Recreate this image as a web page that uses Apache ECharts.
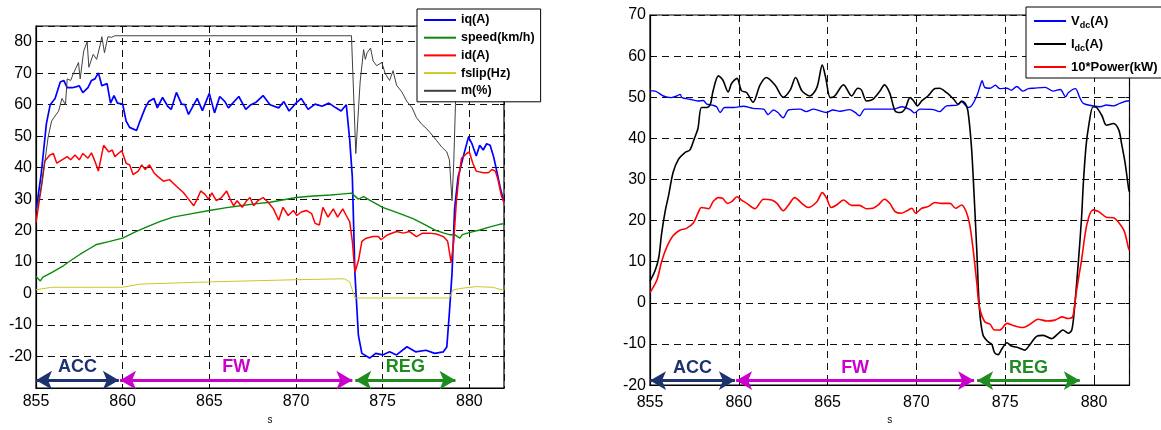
<!DOCTYPE html>
<html>
<head>
<meta charset="utf-8">
<script src="https://cdn.jsdelivr.net/npm/echarts@6/dist/echarts.min.js"></script>
<style>
  html, body { margin: 0; padding: 0; background: #fff; }
  #chart { width: 1161px; height: 430px; }
</style>
</head>
<body>
<div id="chart"></div>
<script>
// ---- data (time in s) ----
const iq = [[855,26],[855.3,38],[855.6,54],[855.82,60],[856.1,62],[856.4,67.2],[856.6,67.7],[856.8,65.4],[857.1,65.4],[857.5,66],[857.7,63.8],[858,65.4],[858.2,67.7],[858.4,68.2],[858.6,70.1],[858.8,66],[859.1,66.7],[859.3,60.5],[859.5,62.9],[859.7,60.5],[860,60.2],[860.2,54.8],[860.4,52.8],[860.8,51.8],[861,54.8],[861.3,59],[861.5,61],[861.8,62],[862,59],[862.3,62.3],[862.6,59.5],[862.8,58.5],[863.1,63.9],[863.4,60.2],[863.6,60],[863.8,56.9],[864.3,62],[864.6,58.1],[865,63.6],[865.3,57.4],[865.6,62.6],[865.9,61],[866.1,59],[866.7,62.6],[867.1,58.5],[867.4,60],[867.7,60.8],[868.1,62.9],[868.5,60],[869,59],[869.3,61],[869.6,58],[870,60.5],[870.3,62],[870.7,58.5],[871.1,60.2],[871.5,59.5],[871.9,60.5],[872.3,59],[872.6,58],[872.9,60],[873.1,48.7],[873.25,37],[873.4,6.3],[873.6,-13.3],[873.8,-19],[874.25,-20.5],[874.6,-19],[875,-19.5],[875.4,-18.5],[875.8,-19.5],[876.4,-16.9],[876.9,-18.5],[877.5,-18],[878,-19],[878.5,-18.5],[878.7,-17],[878.85,-6],[879,6.3],[879.15,27],[879.35,37],[879.65,43.5],[879.95,49.7],[880.15,47.6],[880.4,43.7],[880.6,47.1],[880.8,45.6],[881,47.6],[881.2,47.1],[881.4,43.5],[881.6,38.4],[881.8,33.2],[882,29]];

const speed = [[855,5.4],[855.1,5],[855.25,4],[855.4,5.2],[855.6,5.8],[856,7],[856.6,8.9],[857,10.5],[857.55,12.5],[858,14],[858.5,15.6],[859.2,16.5],[860,17.6],[860.7,19.5],[861.4,21.2],[862.1,22.8],[862.9,24.3],[864,25.4],[865,26.4],[866,27.3],[866.8,27.9],[867.6,28.5],[868.5,29],[869.3,29.8],[870,30.5],[871,31],[872,31.3],[872.6,31.6],[873.2,31.9],[873.6,30],[873.9,30.8],[874.4,29.2],[875,27.4],[875.8,25.8],[876.75,23.8],[877.4,22],[878,20.2],[878.5,19.3],[878.85,18.7],[879.15,18.7],[879.45,17.6],[879.6,18.7],[880.1,19.5],[880.6,20.2],[881.2,21.2],[881.75,22],[882,22.2]];

const id = [[855,22.5],[855.35,35.3],[855.5,42],[855.8,44],[856,44.5],[856.2,41.4],[856.5,42.5],[856.8,43.5],[857,42.5],[857.25,44],[857.5,42.5],[857.7,44.5],[858,43],[858.2,44.7],[858.4,42],[858.6,38.9],[858.9,47.1],[859.2,45],[859.4,45.6],[859.55,43.5],[859.75,44.5],[859.95,45.4],[860.2,41.4],[860.4,40.9],[860.6,37.8],[860.9,38.9],[861.1,40.9],[861.3,39.4],[861.55,40.9],[861.8,38.4],[862,37.3],[862.35,35.7],[862.7,36.2],[863.1,34.1],[863.5,32.1],[863.8,30],[864.1,27.9],[864.3,30],[864.5,32.6],[864.75,31.5],[864.95,30],[865.15,32],[865.4,29.5],[865.7,30.5],[866,32.6],[866.2,30],[866.4,27.9],[866.6,29.5],[866.9,27.4],[867.15,29.5],[867.35,30.5],[867.55,27.9],[867.8,29.5],[868.1,30.5],[868.4,29],[868.7,26.9],[869,23.3],[869.25,27.4],[869.55,24.8],[869.85,26.4],[870.05,24.8],[870.3,25.9],[870.6,26.4],[870.9,25.4],[871.1,22.3],[871.35,21.8],[871.55,27.4],[871.85,24.3],[872.15,26.9],[872.4,24.3],[872.7,26.9],[872.9,24.8],[873.1,22.8],[873.25,16.6],[873.4,6.8],[873.6,10.4],[873.8,16.6],[874.05,17.6],[874.45,18.1],[874.75,18.1],[874.9,17.1],[875.3,18.7],[875.8,19.7],[876.2,19.2],[876.55,19.7],[876.95,18.1],[877.3,19.2],[877.7,19.2],[878.1,18.9],[878.5,18.1],[878.75,16.6],[878.95,9.9],[879.1,16.6],[879.25,29],[879.4,37.2],[879.55,43],[879.85,44.5],[880,45],[880.2,41.4],[880.4,38.9],[880.8,38.4],[881.1,38.4],[881.3,39.4],[881.5,38.9],[881.65,36.3],[881.85,31.1],[882,29]];

const fslip = [[855,1.2],[855.9,2],[860,2],[861,3],[865,3.7],[870,4.4],[872.8,4.7],[873.1,3.7],[873.4,-1.4],[878.85,-1.4],[879.05,1.1],[879.45,1.6],[880.4,2.2],[881.35,2],[882,1]];

const mPct = [[855,26],[855.25,32],[855.5,41.4],[855.7,49.7],[855.9,54.8],[856.1,56.4],[856.3,57.9],[856.5,62],[856.7,60],[856.8,68.2],[857,67.7],[857.15,69.8],[857.45,73.4],[857.55,68.2],[857.75,77],[857.95,80],[858.05,71.9],[858.3,76],[858.5,74.4],[858.7,79],[858.8,81.6],[858.95,76.5],[859.15,81.6],[859.35,81.4],[859.55,81.9],[873.2,81.9],[873.45,44.5],[873.7,67.2],[873.9,77.5],[874,74.4],[874.1,76.5],[874.3,78],[874.45,73.9],[874.65,72.4],[874.95,73.4],[875.15,69.8],[875.4,67.7],[875.6,70.8],[875.8,66.2],[876.1,64.1],[876.4,61],[876.7,59],[876.95,55.9],[877.25,53.8],[877.55,52.3],[877.8,50.7],[878.1,48.7],[878.4,46.6],[878.7,45],[878.85,42.5],[879,29.5],[879.1,41.4],[879.2,60],[879.3,82],[882,82]];

const vdc = [[855,51.6],[855.3,51.5],[855.75,50.3],[856.2,49.9],[856.5,50.3],[856.7,50.7],[856.8,49.9],[857.25,49.5],[857.7,49.1],[858,49.2],[858.2,48.3],[858.5,48.1],[858.75,47.7],[858.95,46.3],[859.2,47.5],[859.7,47.5],[860.25,47.8],[860.8,47.3],[861.4,47.1],[861.65,45.8],[861.95,46.9],[862.2,46.3],[862.5,45],[862.8,46.9],[863.45,47.1],[863.8,46.5],[864.2,47.1],[864.95,46.3],[865.3,46.9],[865.7,46.6],[866.25,47],[866.55,46.3],[866.8,45.5],[867.1,47.1],[867.95,47.1],[868.7,47.1],[869.2,47.7],[869.65,47],[869.9,46.2],[870.2,47.1],[870.95,47],[871.3,46.5],[871.7,47.9],[872.3,48.1],[872.55,48.9],[872.75,48.1],[872.9,47.5],[873.1,47.9],[873.4,50.3],[873.6,52.9],[873.7,54],[873.85,52.4],[874.15,52.2],[874.45,52.9],[874.7,52.1],[875.1,52.2],[875.35,51.7],[875.65,52.6],[876,51.5],[876.3,52.1],[876.6,52.2],[877.25,52.4],[877.7,51.5],[878.1,51.9],[878.4,50.1],[878.55,51.1],[878.95,52.1],[879.2,49.9],[879.4,48.5],[879.95,47.9],[880.35,47.7],[880.7,48.1],[881.1,47.9],[881.45,48.5],[881.85,49.1],[882,49.1]];

const idc = [[855,5.3],[855.3,8],[855.5,11.2],[855.65,16.7],[855.85,22.2],[856.05,26.2],[856.3,31.7],[856.6,34.9],[856.95,36.5],[857.25,37.2],[857.5,40],[857.7,42.4],[857.9,47.5],[858.2,47.5],[858.4,48.3],[858.55,51.5],[858.85,55.2],[859.1,54.2],[859.4,51.3],[859.6,53.4],[859.9,54.6],[860.15,51.6],[860.45,51.1],[860.8,48.8],[861.2,53],[861.55,54.8],[862.05,52.9],[862.5,50],[862.9,51.8],[863.2,54.8],[863.55,51.6],[864,50.3],[864.4,52.4],[864.7,57.8],[864.9,54.6],[865.15,49.9],[865.4,50.3],[865.9,53],[866.35,50.3],[866.7,52.2],[866.9,51.8],[867.2,49.1],[867.55,49.5],[867.95,51.5],[868.2,53],[868.5,51],[868.8,46.7],[869.1,46.3],[869.35,47.1],[869.65,49.9],[869.85,49.1],[870.05,47.9],[870.3,49.1],[870.65,50.3],[871.05,52.1],[871.3,52.2],[871.7,51.1],[872.1,49.5],[872.35,48.3],[872.55,49.1],[872.75,48.5],[872.9,46.7],[873.1,38],[873.25,26.2],[873.4,12.8],[873.55,-1.4],[873.75,-7.8],[874.05,-9.5],[874.25,-10.1],[874.4,-12.1],[874.6,-12.6],[874.8,-11.3],[875.1,-9.7],[875.35,-10.5],[875.75,-10.9],[876.1,-11.5],[876.4,-10.1],[876.75,-8.2],[877.15,-7.9],[877.6,-8.7],[878,-7.4],[878.25,-6.6],[878.55,-7.4],[878.75,-6.6],[878.9,-1.4],[879.1,8.8],[879.3,20.7],[879.4,29],[879.55,38],[879.7,43],[879.95,47.7],[880.15,47.5],[880.45,45.5],[880.7,43.2],[881.1,43.6],[881.4,42],[881.55,38.8],[881.75,34.1],[881.95,27.8],[882,27]];

const power10 = [[855,2.5],[855.4,5.7],[855.65,10],[855.95,13.6],[856.3,16.3],[856.7,17.7],[857.05,18.1],[857.45,19.5],[857.7,21.8],[857.9,23.2],[858.3,22.9],[858.55,24.6],[858.85,25.6],[859.1,25.4],[859.35,24.2],[859.6,24.6],[859.9,25.8],[860.15,25],[860.45,24.2],[860.9,22.9],[861.4,25.2],[861.85,25],[862.15,24.2],[862.5,22.4],[862.8,23.8],[863.15,25.6],[863.55,24.2],[863.9,23.2],[864.4,24.6],[864.7,26.8],[864.95,25.4],[865.2,23.2],[865.5,23.8],[865.9,25],[866.35,23.7],[866.8,23.7],[867.2,22.9],[867.55,23],[867.85,23.8],[868.2,25.2],[868.5,24.2],[868.8,22.2],[869.15,21.8],[869.55,22.6],[869.75,23],[869.95,21.8],[870.3,23],[870.65,23.4],[871.05,24.4],[871.4,24.2],[871.9,24.2],[872.2,23],[872.55,23.8],[872.8,22.2],[873,19.1],[873.2,12.8],[873.4,4.9],[873.55,-1],[873.85,-4.6],[874.15,-5.2],[874.4,-6.6],[874.7,-6.6],[875.1,-5],[875.45,-5.5],[876,-6],[876.4,-5.2],[876.85,-4],[877.35,-4.4],[877.8,-4.2],[878.2,-3.4],[878.55,-3.8],[878.8,-3.4],[879,2.5],[879.3,10.4],[879.6,19.1],[879.95,22.6],[880.25,22.2],[880.45,21.6],[880.7,20.8],[881.1,20.7],[881.4,19.5],[881.7,17.5],[881.95,13.2],[882,12.8]];

// drive phases marked with double arrows under both plots
const phases = ['ACC', 'FW', 'REG'];
const phaseStart = [855, 859.85, 873.42];
const phaseEnd = [859.78, 873.25, 879.2];

const FONT = '"Liberation Sans", Arial, Helvetica, sans-serif';
const PHASE_COLORS = ['#1c3370', '#cc00cc', '#1e8c1e'];

const chart = echarts.init(document.getElementById('chart'));

const gridLine = { show: true, lineStyle: { color: '#111', type: [7, 5], width: 1 } };
const tickIn = { show: true, inside: true, length: 4, lineStyle: { color: '#000' } };

function xAxes(gridIndex, labelMargin) {
  const base = { type: 'value', gridIndex, min: 855, max: 882, interval: 5 };
  return [
    {
      ...base, position: 'bottom',
      axisLine: { show: true, onZero: false, lineStyle: { color: '#000', width: 1.2 } },
      axisTick: tickIn,
      axisLabel: { color: '#000', fontFamily: FONT, fontSize: 16, margin: labelMargin, showMaxLabel: false },
      splitLine: gridLine,
      name: 's', nameLocation: 'middle', nameGap: 27,
      nameTextStyle: { color: '#000', fontFamily: FONT, fontSize: 10 }
    },
    {
      ...base, position: 'top',
      axisLine: { show: false, onZero: false }, axisTick: tickIn,
      axisLabel: { show: false }, splitLine: { show: false }
    }
  ];
}

function yAxes(gridIndex, min, max, hideEnds) {
  const base = { type: 'value', gridIndex, min, max, interval: 10 };
  return [
    {
      ...base, position: 'left',
      axisLine: { show: true, onZero: false, lineStyle: { color: '#000', width: 1.2 } },
      axisTick: tickIn,
      axisLabel: { color: '#000', fontFamily: FONT, fontSize: 16, margin: 4, showMinLabel: !hideEnds, showMaxLabel: !hideEnds },
      splitLine: gridLine
    },
    {
      ...base, position: 'right',
      axisLine: { show: false, onZero: false }, axisTick: tickIn,
      axisLabel: { show: false }, splitLine: { show: false }
    }
  ];
}

function line(name, data, color, width, xi, yi, smooth) {
  return {
    name, type: 'line', data, xAxisIndex: xi, yAxisIndex: yi,
    symbol: 'none', smooth: smooth || false,
    lineStyle: { color, width }, itemStyle: { color },
    emphasis: { disabled: true }
  };
}

function phaseArrows(y) {
  return {
    silent: true,
    symbol: ['arrow', 'arrow'],
    symbolSize: [14, 16],
    data: phases.map((p, i) => {
      const style = {
        lineStyle: { color: PHASE_COLORS[i], width: 3, type: 'solid' },
        label: {
          show: true, formatter: p, position: 'insideMiddleTop', distance: 4,
          color: PHASE_COLORS[i], fontFamily: FONT, fontSize: 18, fontWeight: 'bold'
        }
      };
      return [
        { coord: [phaseStart[i], y], ...style },
        { coord: [phaseEnd[i], y], ...style }
      ];
    })
  };
}

const legendBase = {
  orient: 'vertical',
  selectedMode: false,
  backgroundColor: '#fff',
  borderColor: '#000',
  borderWidth: 1,
  itemWidth: 32,
  itemHeight: 10,
  itemStyle: { opacity: 0 },
  z: 10
};

const subLabels = { 'Vdc(A)': '{n|V}{s|dc}{n|(A)}', 'Idc(A)': '{n|I}{s|dc}{n|(A)}' };

const option = {
  animation: false,
  backgroundColor: '#fff',
  grid: [
    { left: 36, top: 26, width: 468, height: 372, show: true, borderColor: '#000', borderWidth: 1.2 },
    { left: 650, top: 15, width: 479.5, height: 380, show: true, borderColor: '#000', borderWidth: 1.2 }
  ],
  xAxis: [...xAxes(0, 6), ...xAxes(1, 9)],
  yAxis: [...yAxes(0, -30, 85, true), ...yAxes(1, -20, 70, false)],
  legend: [
    {
      ...legendBase,
      left: 417, top: 9,
      padding: [4, 6, 4, 6],
      itemGap: 3.7,
      data: ['iq(A)', 'speed(km/h)', 'id(A)', 'fslip(Hz)', 'm(%)'],
      textStyle: { color: '#000', fontFamily: FONT, fontSize: 12.5, fontWeight: 'bold', lineHeight: 14 }
    },
    {
      ...legendBase,
      left: 1026, top: 7,
      padding: [5, 6, 2, 7],
      itemGap: 5,
      data: ['Vdc(A)', 'Idc(A)', '10*Power(kW)'],
      formatter: name => subLabels[name] || '{n|' + name + '}',
      textStyle: {
        color: '#000', fontFamily: FONT, fontSize: 13, fontWeight: 'bold', lineHeight: 18,
        rich: {
          n: { color: '#000', fontFamily: FONT, fontSize: 13, fontWeight: 'bold', lineHeight: 18, verticalAlign: 'middle' },
          s: { color: '#000', fontFamily: FONT, fontSize: 9, fontWeight: 'bold', lineHeight: 18, verticalAlign: 'bottom' }
        }
      }
    }
  ],
  series: [
    line('iq(A)', iq, '#0000ff', 1.7, 0, 0),
    line('speed(km/h)', speed, '#0a8a0a', 1.4, 0, 0),
    line('id(A)', id, '#ff0000', 1.5, 0, 0),
    line('fslip(Hz)', fslip, '#c8c828', 1, 0, 0),
    line('m(%)', mPct, '#404040', 1, 0, 0),
    { type: 'line', data: [], xAxisIndex: 0, yAxisIndex: 0, markLine: phaseArrows(-27.5) },
    line('Vdc(A)', vdc, '#0000ff', 1.4, 2, 2, 0.3),
    line('Idc(A)', idc, '#000000', 1.6, 2, 2, 0.3),
    line('10*Power(kW)', power10, '#ff0000', 1.6, 2, 2, 0.3),
    { type: 'line', data: [], xAxisIndex: 2, yAxisIndex: 2, markLine: phaseArrows(-18.9) }
  ]
};

chart.setOption(option);
</script>
</body>
</html>
